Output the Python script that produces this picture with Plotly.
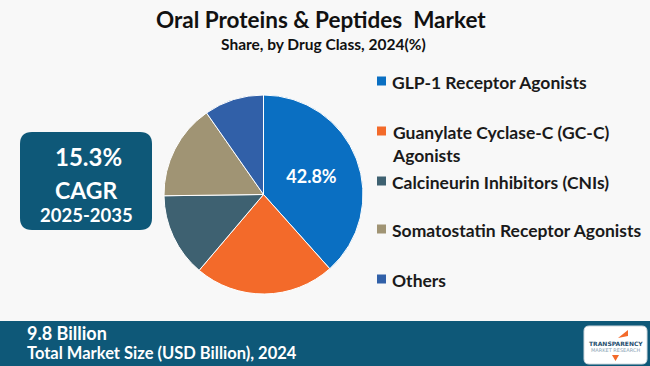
import plotly.graph_objects as go

# ---- data ----
categories = [
    "GLP-1 Receptor Agonists",
    "Guanylate Cyclase-C (GC-C)<br>Agonists",
    "Calcineurin Inhibitors (CNIs)",
    "Somatostatin Receptor Agonists",
    "Others",
]
shares = [38.4, 22.8, 13.6, 15.5, 9.7]
share_labels = ["<b>42.8%</b>", "", "", "", ""]
colors = ["#0A6FC2", "#F36A2A", "#3E6171", "#A09474", "#3160A8"]
legend_y = [81, 131, 181, 229, 279]

title = "<b>Oral Proteins & Peptides  Market</b>"
subtitle = "<b>Share, by Drug Class, 2024(%)</b>"
cagr_value = "15.3%"
cagr_label = "CAGR"
cagr_period = "2025-2035"
market_size = "9.8 Billion"
market_label = "Total Market Size (USD Billion), 2024"

W, H = 650, 366
FONT = "Lato"
BAND = "#0E5878"

fig = go.Figure()
cx, cy, r = 263.5, 194.5, 99.5
fig.add_trace(go.Pie(
    labels=categories,
    values=shares,
    text=share_labels,
    textinfo="text",
    textposition="inside",
    insidetextorientation="horizontal",
    textfont=dict(family=FONT, size=18, color="white"),
    marker=dict(colors=colors, line=dict(color="white", width=1)),
    sort=False,
    direction="clockwise",
    rotation=0,
    showlegend=False,
    hoverinfo="label+percent",
    domain=dict(x=[(cx - r) / W, (cx + r) / W], y=[(H - cy - r) / H, (H - cy + r) / H]),
))

shapes = []
annotations = []


def px(x):
    return x / W


def py(y):
    return 1 - y / H


def rounded_rect(x0, y0, x1, y1, rad):
    return (f"M {px(x0 + rad)},{py(y0)} L {px(x1 - rad)},{py(y0)} "
            f"Q {px(x1)},{py(y0)} {px(x1)},{py(y0 + rad)} L {px(x1)},{py(y1 - rad)} "
            f"Q {px(x1)},{py(y1)} {px(x1 - rad)},{py(y1)} L {px(x0 + rad)},{py(y1)} "
            f"Q {px(x0)},{py(y1)} {px(x0)},{py(y1 - rad)} L {px(x0)},{py(y0 + rad)} "
            f"Q {px(x0)},{py(y0)} {px(x0 + rad)},{py(y0)} Z")


def text_at(txt, x, y, size, color="white", xanchor="center", yanchor="middle", family=FONT, align="center"):
    annotations.append(dict(text=txt, x=px(x), y=py(y), xref="paper", yref="paper",
                            showarrow=False, xanchor=xanchor, yanchor=yanchor, align=align,
                            font=dict(family=family, size=size, color=color)))


# title
text_at(title, 321, 20, 22.5, color="#111111")
text_at(subtitle, 323, 44, 15.5, color="#111111")

# legend (custom)
LEG_SIZE = 17.5
for cat, col, ly in zip(categories, colors, legend_y):
    shapes.append(dict(type="rect", xref="paper", yref="paper",
                       x0=px(377), x1=px(386), y0=py(ly + 4.5), y1=py(ly - 4.5),
                       fillcolor=col, line=dict(width=0)))
    text_at("<b>" + cat.replace("<br>", "</b><br><b>") + "</b>", 390, ly - 0.65 * LEG_SIZE,
            LEG_SIZE, color="#1a1a1a", xanchor="left", yanchor="top", align="left")

# CAGR box
shapes.append(dict(type="path", xref="paper", yref="paper",
                   path=rounded_rect(20, 132, 152, 230, 12), fillcolor=BAND, line=dict(width=0)))
text_at("<b>" + cagr_value + "</b>", 88, 156, 24)
text_at("<b>" + cagr_label + "</b>", 86, 190, 23)
text_at("<b>" + cagr_period + "</b>", 86, 215, 18.5)

# bottom band
shapes.append(dict(type="rect", xref="paper", yref="paper", x0=0, x1=1, y0=0, y1=py(321),
                   fillcolor=BAND, line=dict(width=0), layer="below"))
text_at("<b>" + market_size + "</b>", 25, 333, 18, xanchor="left")
text_at("<b>" + market_label + "</b>", 25, 353, 16.5, xanchor="left")

# logo
shapes.append(dict(type="path", xref="paper", yref="paper",
                   path=rounded_rect(584, 326, 647, 364, 5), fillcolor="white",
                   line=dict(color="#cfd8de", width=1)))
shapes.append(dict(type="path", xref="paper", yref="paper",
                   path=f"M {px(618)},{py(338)} L {px(628)},{py(330)} L {px(628)},{py(336)} Z",
                   fillcolor="#F36A2A", line=dict(width=0)))
text_at("<b>TRANSPARENCY</b>", 615.5, 343, 6, color="#1E4E6E", family="DejaVu Sans")
text_at("MARKET RESEARCH", 615.5, 350, 5, color="#8aa5b5", family="DejaVu Sans")
shapes.append(dict(type="path", xref="paper", yref="paper",
                   path=f"M {px(612)},{py(355)} L {px(619)},{py(355)} L {px(615.5)},{py(361)} Z",
                   fillcolor="#F36A2A", line=dict(width=0)))

fig.update_layout(
    width=W, height=H,
    margin=dict(l=0, r=0, t=0, b=0),
    paper_bgcolor="#F8F8F8",
    plot_bgcolor="#F8F8F8",
    shapes=shapes,
    annotations=annotations,
    showlegend=False,
)

fig.write_html("out.html",
               config={"displayModeBar": False},
               post_script="document.body.style.margin='0';document.body.style.overflow='hidden';")
